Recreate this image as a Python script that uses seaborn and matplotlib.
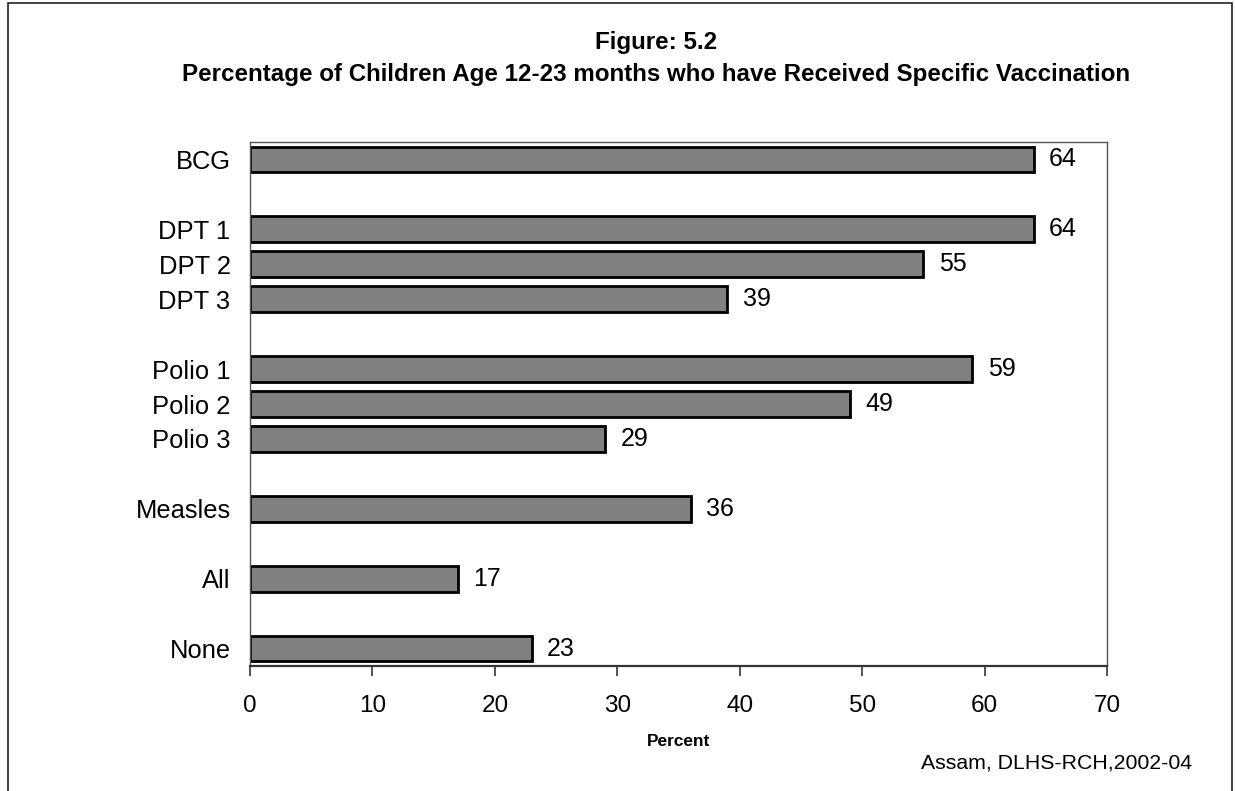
import matplotlib
matplotlib.use("Agg")
import matplotlib.pyplot as plt
from matplotlib.patches import Rectangle
import numpy as np
import pandas as pd
import seaborn as sns

# Vaccination coverage, children aged 12-23 months (percent)
groups = [
    ["BCG"],
    ["DPT 1", "DPT 2", "DPT 3"],
    ["Polio 1", "Polio 2", "Polio 3"],
    ["Measles"],
    ["All"],
    ["None"],
]
values = [64, 64, 55, 39, 59, 49, 29, 36, 17, 23]
x_ticks = [0, 10, 20, 30, 40, 50, 60, 70]

title_line1 = "Figure: 5.2"
title_line2 = "Percentage of Children Age 12-23 months who have Received Specific Vaccination"
x_label = "Percent"
source_note = "Assam, DLHS-RCH,2002-04"

# Category order with an empty slot between groups
labels = [name for grp in groups for name in grp]
order = []
for i, grp in enumerate(groups):
    if i > 0:
        order.append(" " * i)
    order.extend(grp)

df = pd.DataFrame({"label": labels, "value": values})

sns.set_theme(style="white")
plt.rcParams["font.family"] = ["Liberation Sans", "DejaVu Sans"]
plt.rcParams.update({
    "text.color": "black",
    "axes.labelcolor": "black",
    "xtick.color": "black",
    "ytick.color": "black",
})

W, H = 1235, 791
fig = plt.figure(figsize=(W / 100, H / 100), dpi=100)
ax = fig.add_axes([250 / W, 1 - 666 / H, (1107 - 250) / W, (666 - 142) / H])

sns.barplot(
    data=df, x="value", y="label", order=order, orient="h",
    color="#808080", saturation=1, edgecolor="black", linewidth=2,
    width=0.74, ax=ax,
)

for c in ax.containers:
    ax.bar_label(c, fmt="%d", padding=11, fontsize=18, color="black")

ax.set_xlim(0, 70)
ax.set_ylim(len(order) - 0.5, -0.5)
ax.set_xticks(x_ticks)
ax.set_ylabel("")
ax.set_xlabel(x_label, fontsize=12.4, fontweight="bold", labelpad=12)
ax.tick_params(axis="x", length=7, width=1.2, color="#333333", pad=14,
               labelsize=17.5, labelcolor="black", direction="out", bottom=True)
ax.tick_params(axis="y", length=0, pad=14, labelsize=18.4, labelcolor="black")

for side, sp in ax.spines.items():
    sp.set_visible(True)
    sp.set_color("#555555")
    sp.set_linewidth(1.0)
ax.spines["bottom"].set_color("#333333")
ax.spines["bottom"].set_linewidth(1.6)

fig.text(656 / W, 1 - 43 / H, title_line1, ha="center", va="center",
         fontsize=17.4, fontweight="bold")
fig.text(656 / W, 1 - 75 / H, title_line2, ha="center", va="center",
         fontsize=17.4, fontweight="bold")
fig.text(1192 / W, 1 - 763 / H, source_note, ha="right", va="center",
         fontsize=15.3)

# Outer frame around the figure (open at the bottom edge)
fig.patches.append(Rectangle((8 / W, -0.05), (1232 - 8) / W, 1.05 - 3 / H,
                             transform=fig.transFigure, fill=False,
                             edgecolor="#222222", linewidth=1.2, clip_on=False))

fig.savefig("out.png", dpi=100)
